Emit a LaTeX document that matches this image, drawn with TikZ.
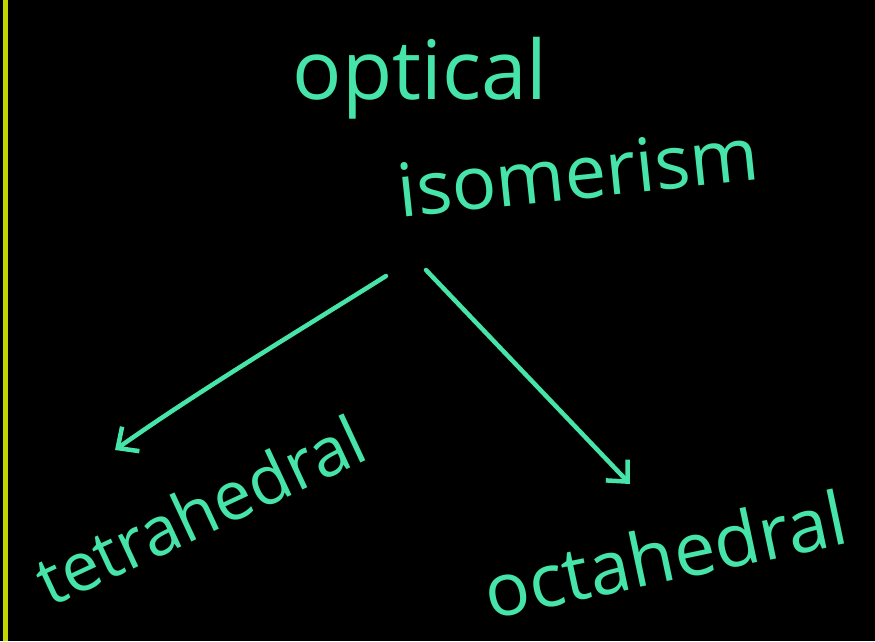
\documentclass[tikz,border=0pt]{standalone}
\usepackage{fontspec}
\setmainfont{Open Sans}
\usetikzlibrary{arrows.meta}
\definecolor{chalk}{RGB}{70,228,168}
\definecolor{edgey}{RGB}{196,214,0}
\tikzset{
  hand/.style={text=chalk, inner sep=0pt},
  link/.style={draw=chalk, line width=4.5pt, line cap=round, -{Straight Barb[length=16pt,width=30pt,line width=4.5pt]}}
}
\begin{document}
\begin{tikzpicture}[x=1pt,y=-1pt]
\fill[black] (0,0) rectangle (875,641);
\useasboundingbox (0,0) rectangle (875,641);
\draw[edgey, line width=5pt] (5,0) -- (5,641);
\node[hand, font=\fontsize{82}{84}\selectfont] (opt) at (420,78) {optical};
\node[hand, font=\fontsize{74}{76}\selectfont, rotate=6] (iso) at (578,172) {isomerism};
\coordinate (s1) at (386,276);
\coordinate (s2) at (426,270);
\node[hand, font=\fontsize{68}{70}\selectfont, rotate=25] (tet) at (200,510) {tetrahedral};
\node[hand, font=\fontsize{74}{76}\selectfont, rotate=12] (oct) at (665,554) {octahedral};
\coordinate (e1) at (115,450);
\coordinate (e2) at (630,484);
\draw[link] (s1) .. controls (300,330) and (200,390) .. (e1);
\draw[link] (s2) -- (e2);
\end{tikzpicture}
\end{document}
